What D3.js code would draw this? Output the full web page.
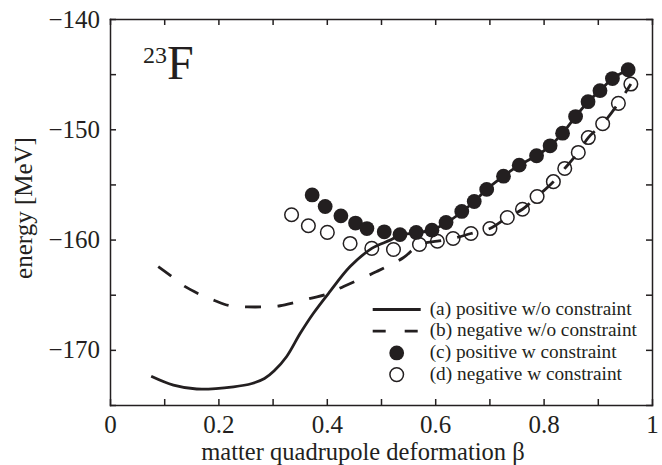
<!DOCTYPE html>
<html lang="en">
<head>
<meta charset="utf-8"/>
<title>23F energy curve</title>
<style>
  body { margin: 0; background: #fff; }
  svg { display: block; font-family: "Liberation Serif", "Times New Roman", serif; }
</style>
</head>
<body>
<svg width="662" height="465"></svg>
<script src="https://d3js.org/d3.v7.min.js"></script>
<script>

// (a) positive w/o constraint  [beta, energy]
var curveA = [[0.076,-172.4],[0.117,-173.2],[0.16,-173.55],[0.228,-173.35],[0.262,-173.05],
  [0.285,-172.6],[0.303,-171.9],[0.326,-170.6],[0.351,-168.5],[0.375,-166.7],[0.406,-164.7],[0.443,-162.45],
  [0.483,-160.8],[0.517,-160.05],[0.535,-159.6],[0.565,-159.4],[0.593,-159.15],[0.62,-158.5],
  [0.649,-157.5],[0.672,-156.55],[0.695,-155.45],[0.726,-154.25],[0.755,-153.25],[0.787,-152.4],
  [0.812,-151.5],[0.835,-150.35],[0.859,-148.85],[0.882,-147.5],[0.904,-146.5],[0.927,-145.4],
  [0.956,-144.6]];

// (b) negative w/o constraint
var curveB = [[0.089,-162.45],[0.114,-163.35],[0.138,-164.25],[0.165,-164.95],[0.194,-165.55],
  [0.221,-166.0],[0.253,-166.1],[0.283,-166.1],[0.314,-166.0],[0.341,-165.7],[0.372,-165.3],
  [0.4,-164.95],[0.431,-164.25],[0.492,-162.9],[0.541,-161.65],[0.571,-160.45],[0.604,-160.15],
  [0.633,-159.9],[0.666,-159.45],[0.701,-159.0],[0.733,-158.0],[0.761,-157.25],[0.788,-156.1],
  [0.818,-154.75],[0.839,-153.55],[0.864,-152.1],[0.8825,-150.75],[0.909,-149.5],[0.938,-147.65],
  [0.961,-145.9]];

// (c) positive w constraint
var pointsC = [[0.373,-155.95],[0.397,-157.0],[0.426,-157.85],[0.453,-158.5],[0.474,-159.0],
  [0.506,-159.3],[0.535,-159.55],[0.565,-159.35],[0.594,-159.15],[0.62,-158.45],[0.649,-157.45],
  [0.672,-156.55],[0.695,-155.45],[0.726,-154.25],[0.755,-153.25],[0.787,-152.4],[0.812,-151.5],
  [0.835,-150.35],[0.859,-148.85],[0.882,-147.5],[0.904,-146.5],[0.927,-145.4],[0.956,-144.6]];

// (d) negative w constraint
var pointsD = [[0.335,-157.75],[0.366,-158.75],[0.401,-159.35],[0.443,-160.35],[0.483,-160.8],
  [0.523,-160.9],[0.571,-160.45],[0.604,-160.15],[0.633,-159.9],[0.666,-159.45],[0.701,-159.0],
  [0.733,-158.0],[0.761,-157.25],[0.788,-156.1],[0.818,-154.75],[0.839,-153.55],[0.864,-152.1],
  [0.8825,-150.75],[0.909,-149.5],[0.938,-147.65],[0.961,-145.9]];

var xTicks = [0,0.1,0.2,0.3,0.4,0.5,0.6,0.7,0.8,0.9,1];
var xTickLabels = ["0","","0.2","","0.4","","0.6","","0.8","","1"];
var yTicks = [-175,-170,-165,-160,-155,-150,-145,-140];
var yTickLabels = ["","\u2212170","","\u2212160","","\u2212150","","\u2212140"];
var legendLabels = ["(a) positive w/o constraint","(b) negative w/o constraint",
  "(c) positive w constraint","(d) negative w constraint"];

var ink = "#231f20";
var svg = d3.select("svg");
var mLeft = 110, mRight = 652, mTop = 19, mBottom = 405;

var x = d3.scaleLinear().domain([0, 1]).range([mLeft, mRight]);
var y = d3.scaleLinear().domain([-175, -140]).range([mBottom, mTop]);

function styleAxis(g) {
  g.selectAll("path, line").attr("stroke", ink).attr("stroke-width", 1.5);
  g.selectAll("text").attr("fill", ink).style("font-size", "25px")
    .style("font-family", "\"Liberation Serif\", serif");
  g.selectAll("text").filter(function() { return this.textContent === ""; }).remove();
}

svg.append("g").attr("transform", "translate(0," + mBottom + ")")
  .call(d3.axisBottom(x).tickValues(xTicks).tickSize(-6).tickSizeOuter(0).tickPadding(10)
    .tickFormat(function(d, i) { return xTickLabels[i]; }))
  .call(styleAxis);
svg.append("g").attr("transform", "translate(0," + mTop + ")")
  .call(d3.axisTop(x).tickValues(xTicks).tickSize(-6).tickSizeOuter(0).tickFormat(""))
  .call(styleAxis);
svg.append("g").attr("transform", "translate(" + mLeft + ",0)")
  .call(d3.axisLeft(y).tickValues(yTicks).tickSize(-6).tickSizeOuter(0).tickPadding(10)
    .tickFormat(function(d, i) { return yTickLabels[i]; }))
  .call(styleAxis);
svg.append("g").attr("transform", "translate(" + mRight + ",0)")
  .call(d3.axisRight(y).tickValues(yTicks).tickSize(-6).tickSizeOuter(0).tickFormat(""))
  .call(styleAxis);

svg.selectAll(".domain").attr("stroke-linecap", "square");

// axis titles
svg.append("text").attr("x", 363).attr("y", 460).attr("text-anchor", "middle")
  .attr("fill", ink).style("font-size", "24.5px").text("matter quadrupole deformation \u03b2");
svg.append("text").attr("transform", "translate(32,208) rotate(-90)").attr("text-anchor", "middle")
  .attr("fill", ink).style("font-size", "25px").text("energy [MeV]");

// nucleus label
var nuc = svg.append("text").attr("x", 143).attr("y", 79).attr("fill", ink);
nuc.append("tspan").style("font-size", "24px").attr("dy", -16).text("23");
nuc.append("tspan").style("font-size", "48px").attr("dy", 16).text("F");

var line = d3.line()
  .x(function(d) { return x(d[0]); })
  .y(function(d) { return y(d[1]); })
  .curve(d3.curveCatmullRom.alpha(0.5));

svg.append("path").datum(curveB).attr("d", line).attr("fill", "none")
  .attr("stroke", ink).attr("stroke-width", 2.8).attr("stroke-dasharray", "16,16.5");
svg.append("path").datum(curveA).attr("d", line).attr("fill", "none")
  .attr("stroke", ink).attr("stroke-width", 2.8);

svg.append("g").selectAll("circle").data(pointsD).enter().append("circle")
  .attr("cx", function(d) { return x(d[0]); })
  .attr("cy", function(d) { return y(d[1]); })
  .attr("r", 6.8).attr("fill", "none").attr("stroke", ink).attr("stroke-width", 1.5);

svg.append("g").selectAll("circle").data(pointsC).enter().append("circle")
  .attr("cx", function(d) { return x(d[0]); })
  .attr("cy", function(d) { return y(d[1]); })
  .attr("r", 7.4).attr("fill", ink);

// legend
var legend = svg.append("g").attr("transform", "translate(372.7,309.5)");
var rowH = 21.7;
legend.append("line").attr("x1", 0).attr("x2", 48).attr("y1", 0).attr("y2", 0)
  .attr("stroke", ink).attr("stroke-width", 2.8);
legend.append("line").attr("x1", 0).attr("x2", 48).attr("y1", rowH).attr("y2", rowH)
  .attr("stroke", ink).attr("stroke-width", 2.8).attr("stroke-dasharray", "13,19");
legend.append("circle").attr("cx", 24).attr("cy", rowH * 2).attr("r", 7.4).attr("fill", ink);
legend.append("circle").attr("cx", 24).attr("cy", rowH * 3).attr("r", 6.8)
  .attr("fill", "none").attr("stroke", ink).attr("stroke-width", 1.5);
legend.selectAll("text").data(legendLabels).enter().append("text")
  .attr("x", 57).attr("y", function(d, i) { return i * rowH + 5; })
  .attr("fill", ink).style("font-size", "19.3px").text(function(d) { return d; });

</script>
</body>
</html>
